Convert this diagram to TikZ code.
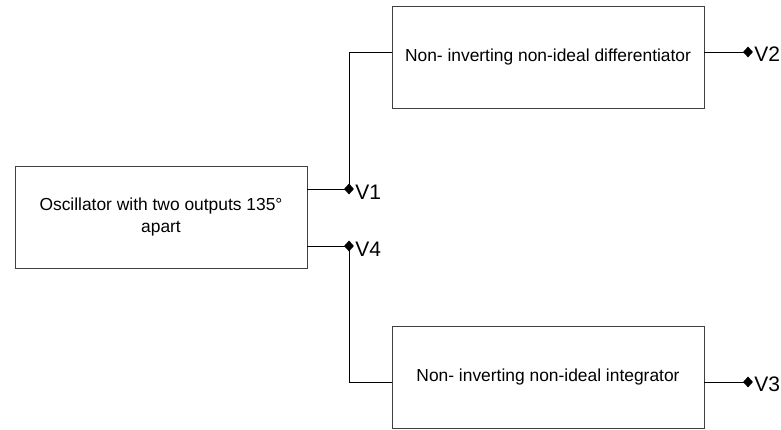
\documentclass[tikz,border=0pt]{standalone}
\usepackage{fontspec}
\setmainfont{Liberation Sans}
\usetikzlibrary{shapes.geometric}
\begin{document}
\begin{tikzpicture}[x=1pt,y=1pt,
  block/.style={draw=black!75, line width=0.9pt, fill=white, inner sep=0pt, align=center, font=\fontsize{17.4}{22}\selectfont},
  wire/.style={draw=black, line width=0.9pt},
  port/.style={diamond, fill=black, draw=none, inner sep=0pt, minimum width=10pt, minimum height=11pt},
  plabel/.style={anchor=west, inner sep=1pt, font=\fontsize{21}{23}\selectfont}]
\useasboundingbox (0,0) rectangle (781,430);
% blocks
\node[block, minimum width=292pt, minimum height=102pt] (osc) at (161,213) {Oscillator with two outputs 135°\\apart};
\node[block, minimum width=312pt, minimum height=102pt] (diff) at (548,373) {Non- inverting non-ideal differentiator};
\node[block, minimum width=312pt, minimum height=102pt] (intg) at (548,53) {Non- inverting non-ideal integrator};
% output ports
\node[port] (v1) at (349,241) {};
\node[port] (v4) at (349,184) {};
\node[port] (v2) at (748,378) {};
\node[port] (v3) at (748,48) {};
\node[plabel] at ([yshift=-3pt]v1.east) {V1};
\node[plabel] at ([yshift=-3pt]v4.east) {V4};
\node[plabel] at ([yshift=-2pt]v2.east) {V2};
\node[plabel] at ([yshift=-2pt]v3.east) {V3};
% connectors
\draw[wire] (osc.east |- v1) -- (v1.center);
\draw[wire] (osc.east |- v4) -- (v4.center);
\draw[wire] (v1.center) |- (diff.west |- v2);
\draw[wire] (v4.center) |- (intg.west |- v3);
\draw[wire] (diff.east |- v2) -- (v2.center);
\draw[wire] (intg.east |- v3) -- (v3.center);
\end{tikzpicture}
\end{document}
